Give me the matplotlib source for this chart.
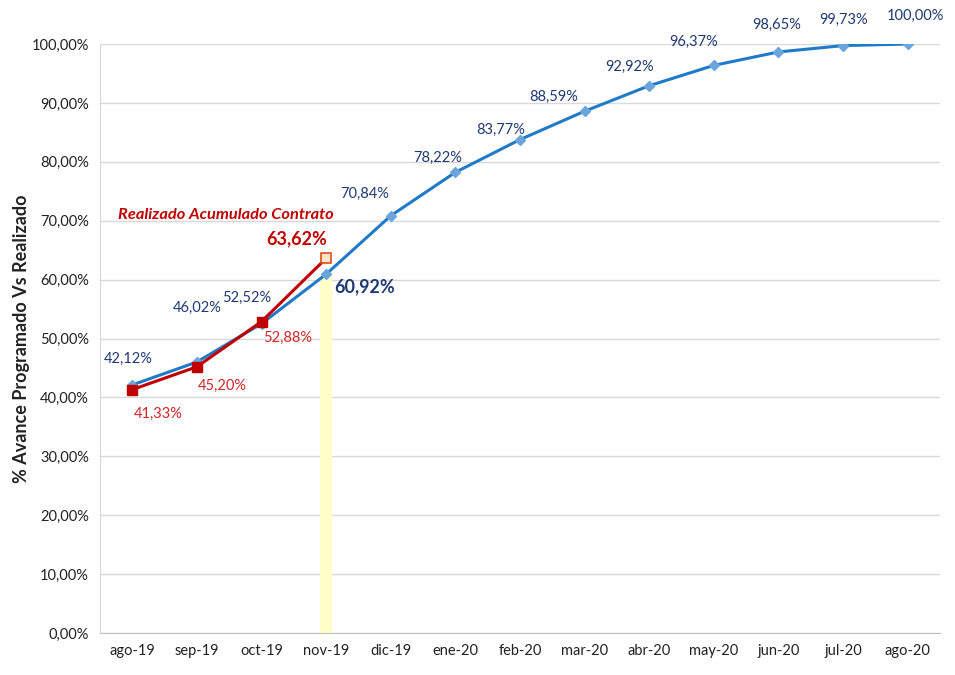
import numpy as np
import matplotlib.pyplot as plt
from matplotlib.ticker import FuncFormatter

plt.rcParams['font.family'] = ['Lato', 'DejaVu Sans']

meses = ['ago-19', 'sep-19', 'oct-19', 'nov-19', 'dic-19', 'ene-20', 'feb-20',
         'mar-20', 'abr-20', 'may-20', 'jun-20', 'jul-20', 'ago-20']
programado = [42.12, 46.02, 52.52, 60.92, 70.84, 78.22, 83.77, 88.59, 92.92,
              96.37, 98.65, 99.73, 100.00]
realizado = [41.33, 45.20, 52.88, 63.62]

# label offsets in pixels (dx, dy)
off_prog = [(-4, 26), (0, 54), (-15, 26), (38, -13), (-26, 22), (-18, 14), (-19, 10),
            (-31, 14), (-20, 19), (-20, 24), (-2, 27), (0, 26), (8, 28)]
off_real = [(26, -24), (25, -19), (26, -16), (-29, 20)]

navy = '#1F3A73'
rojo = '#C00000'
azul = '#1F7BC8'

fig = plt.figure(figsize=(9.55, 6.75), dpi=100)
ax = fig.add_axes([0.1047, 0.0622, 0.8796, 0.8726])

x = np.arange(len(meses))
xr = np.arange(len(realizado))

ax.bar(3, programado[3] / 100, width=0.18, color='#FFFFC8', zorder=1)

ax.plot(x, np.array(programado) / 100, color=azul, lw=2.2, marker='D', ms=5,
        mfc='#6AA5DC', mec='#6AA5DC', zorder=3)
ax.plot(xr[:-1], np.array(realizado[:-1]) / 100, color=rojo, lw=2.2, marker='s', ms=7,
        mfc=rojo, mec=rojo, zorder=4)
ax.plot(xr[-2:], np.array(realizado[-2:]) / 100, color=rojo, lw=2.2, zorder=4)
ax.plot(xr[-1], realizado[-1] / 100, marker='s', ms=7, mfc='#FCE4C8',
        mec='#E0501A', mew=1.2, zorder=5)

def fmt(v):
    return f'{v:.2f}%'.replace('.', ',')

for i, v in enumerate(programado):
    dx, dy = off_prog[i]
    if i == 3:
        ax.annotate(fmt(v), (i, v / 100), xytext=(dx, dy), textcoords='offset pixels',
                    ha='center', va='center', color=navy, fontsize=13, fontweight='bold')
    else:
        ax.annotate(fmt(v), (i, v / 100), xytext=(dx, dy), textcoords='offset pixels',
                    ha='center', va='center', color=navy, fontsize=10.5)

for i, v in enumerate(realizado):
    dx, dy = off_real[i]
    if i == 3:
        ax.annotate(fmt(v), (i, v / 100), xytext=(dx, dy), textcoords='offset pixels',
                    ha='center', va='center', color=rojo, fontsize=13, fontweight='bold')
    else:
        ax.annotate(fmt(v), (i, v / 100), xytext=(dx, dy), textcoords='offset pixels',
                    ha='center', va='center', color='#D0262A', fontsize=10.5)

ax.text(1.45, 0.71, 'Realizado Acumulado Contrato', color=rojo, fontsize=11.8,
        fontweight='bold', fontstyle='italic', ha='center', va='center')

ax.set_xlim(-0.5, len(meses) - 0.5)
ax.set_ylim(0, 1.0)
ax.set_yticks(np.arange(0, 1.01, 0.1))
ax.yaxis.set_major_formatter(FuncFormatter(lambda v, p: fmt(v * 100)))
ax.set_xticks(x)
ax.set_xticklabels(meses)
ax.tick_params(axis='both', length=0, labelsize=10.5, colors='#222222', pad=8)
ax.grid(axis='y', color='#D9D9D9', lw=1, zorder=0)
ax.set_axisbelow(True)
for s in ['top', 'right']:
    ax.spines[s].set_visible(False)
ax.spines['left'].set_color('#D9D9D9')
ax.spines['bottom'].set_color('#BFBFBF')

ax.set_ylabel('% Avance Programado Vs Realizado', fontsize=13, fontweight='bold',
              color='#222222', labelpad=1)

fig.savefig('out.png', dpi=100)
